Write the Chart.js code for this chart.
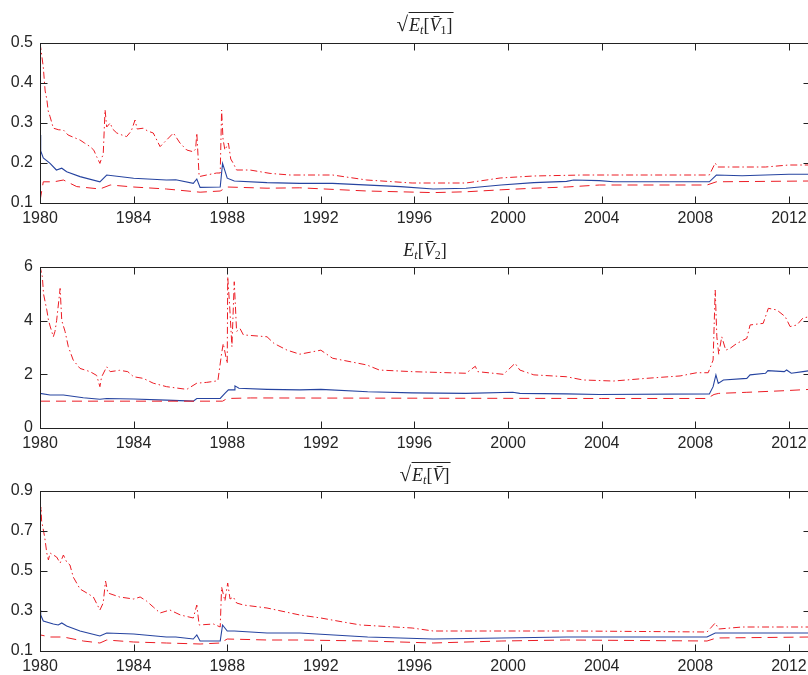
<!DOCTYPE html>
<html>
<head>
<meta charset="utf-8">
<script src="https://cdn.jsdelivr.net/npm/chart.js@4.4.1/dist/chart.umd.min.js"></script>
<style>
  html, body { margin: 0; padding: 0; background: #fff; }
  #fig { position: relative; width: 808px; height: 675px; overflow: hidden; }
  #fig canvas { position: absolute; left: 0; }
  .ttl { position: absolute; left: 425px; transform: translateX(-50%); font-family: 'Liberation Serif', serif; font-size: 18px; color: #222; white-space: nowrap; line-height: 20px; }
  .ttl i { font-style: italic; }
  .ttl sub { font-size: 12px; vertical-align: -3px; line-height: 0; }
  .rad { font-size: 21px; }
  .ov { display: inline-block; border-top: 1px solid #222; line-height: 18px; padding: 3px 1px 0 1px; }
  .bar { position: relative; }
  .bar::after { content: ''; position: absolute; left: 4px; right: 1px; top: 1px; border-top: 1px solid #222; }
</style>
</head>
<body>
<div id="fig">
  <canvas id="c1" width="830" height="228" style="top:0px"></canvas>
  <canvas id="c2" width="830" height="228" style="top:224px"></canvas>
  <canvas id="c3" width="830" height="228" style="top:448px"></canvas>
  <div class="ttl" style="top:12px"><span class="rad">√</span><span class="ov"><i>E</i><sub><i>t</i></sub>[<i class="bar">V</i><sub>1</sub>]</span></div>
  <div class="ttl" style="top:240px"><i>E</i><sub><i>t</i></sub>[<i class="bar">V</i><sub>2</sub>]</div>
  <div class="ttl" style="top:462px"><span class="rad">√</span><span class="ov"><i>E</i><sub><i>t</i></sub>[<i class="bar">V</i>]</span></div>
</div>
<script>
// eixo x comum
const xTicks = [1980, 1984, 1988, 1992, 1996, 2000, 2004, 2008, 2012];

// painel 1: sqrt(E_t[V1])
const yTicks1 = [0.1, 0.2, 0.3, 0.4, 0.5];
const tUp1 = [1980.0, 1980.05, 1980.14, 1980.22, 1980.29, 1980.35, 1980.43, 1980.57, 1980.8, 1981.0, 1981.2, 1981.4, 1981.71, 1981.9, 1982.14, 1982.3, 1982.42, 1982.56, 1982.65, 1982.7, 1982.78, 1982.85, 1983.0, 1983.1, 1983.28, 1983.5, 1983.7, 1983.9, 1984.06, 1984.15, 1984.41, 1984.6, 1984.84, 1985.13, 1985.41, 1985.7, 1985.98, 1986.27, 1986.55, 1986.65, 1986.7, 1986.8, 1987.12, 1987.55, 1987.7, 1987.76, 1987.82, 1987.9, 1988.05, 1988.15, 1988.26, 1988.4, 1988.97, 1989.83, 1990.68, 1992.5, 1993.96, 1995.9, 1998.2, 1999.66, 2001.08, 2003.2, 2008.6, 2008.85, 2008.95, 2011.0, 2012.0, 2012.9];
const vUp1 = [0.5, 0.48, 0.44, 0.38, 0.36, 0.33, 0.316, 0.287, 0.283, 0.2825, 0.27, 0.265, 0.2575, 0.25, 0.241, 0.232, 0.216, 0.199, 0.215, 0.22, 0.333, 0.29, 0.3, 0.285, 0.275, 0.27, 0.266, 0.28, 0.3075, 0.285, 0.287, 0.28, 0.275, 0.241, 0.2575, 0.275, 0.25, 0.2325, 0.228, 0.235, 0.275, 0.166, 0.17, 0.175, 0.175, 0.3325, 0.26, 0.2325, 0.25, 0.21, 0.199, 0.1825, 0.1825, 0.174, 0.17, 0.17, 0.1575, 0.15, 0.15, 0.1625, 0.1675, 0.17, 0.17, 0.2, 0.19, 0.19, 0.195, 0.195];
const tMid1 = [1980.0, 1980.03, 1980.14, 1980.43, 1980.7, 1980.93, 1981.14, 1981.71, 1982.56, 1982.85, 1984.0, 1985.4, 1985.8, 1986.55, 1986.7, 1986.84, 1987.7, 1987.8, 1988.0, 1988.3, 1989.7, 1991.1, 1992.5, 1995.4, 1996.8, 1998.2, 1999.7, 2001.1, 2002.5, 2002.8, 2003.9, 2004.5, 2008.6, 2008.9, 2010.0, 2012.0, 2012.9];
const vMid1 = [0.27, 0.23, 0.2125, 0.199, 0.1825, 0.187, 0.178, 0.166, 0.153, 0.17, 0.162, 0.1575, 0.158, 0.149, 0.16, 0.139, 0.14, 0.199, 0.162, 0.155, 0.151, 0.149, 0.149, 0.141, 0.135, 0.137, 0.145, 0.151, 0.154, 0.1575, 0.156, 0.153, 0.153, 0.17, 0.168, 0.172, 0.172];
const tLow1 = [1980.0, 1980.14, 1980.6, 1981.0, 1981.57, 1982.56, 1983.0, 1984.0, 1985.4, 1986.84, 1987.7, 1988.0, 1989.7, 1991.1, 1993.96, 1996.8, 1998.2, 1999.7, 2001.1, 2002.5, 2003.9, 2008.5, 2008.9, 2012.9];
const vLow1 = [0.105, 0.153, 0.153, 0.1575, 0.141, 0.135, 0.145, 0.14, 0.135, 0.127, 0.13, 0.14, 0.137, 0.138, 0.13, 0.126, 0.128, 0.133, 0.137, 0.14, 0.145, 0.145, 0.153, 0.155];

// painel 2: E_t[V2]
const yTicks2 = [0, 2, 4, 6];
const tUp2 = [1980.0, 1980.02, 1980.1, 1980.15, 1980.29, 1980.36, 1980.43, 1980.57, 1980.64, 1980.71, 1980.86, 1980.93, 1981.07, 1981.21, 1981.42, 1981.71, 1982.14, 1982.42, 1982.56, 1982.63, 1982.85, 1983.0, 1983.4, 1983.75, 1984.0, 1984.41, 1984.84, 1985.41, 1986.27, 1986.7, 1987.12, 1987.6, 1987.76, 1987.83, 1988.0, 1988.02, 1988.1, 1988.2, 1988.3, 1988.4, 1988.55, 1988.69, 1989.7, 1990.0, 1990.56, 1991.1, 1992.0, 1992.5, 1993.96, 1994.5, 1995.9, 1998.2, 1998.6, 1998.7, 1999.8, 2000.3, 2000.5, 2001.1, 2002.5, 2003.2, 2004.5, 2005.9, 2007.35, 2008.06, 2008.55, 2008.76, 2008.85, 2008.92, 2009.0, 2009.13, 2009.3, 2009.49, 2009.77, 2010.2, 2010.34, 2010.9, 2011.12, 2011.48, 2011.84, 2012.05, 2012.34, 2012.6, 2012.9];
const vUp2 = [4.77, 5.95, 5.64, 5.0, 4.4, 4.03, 3.8, 3.4, 3.6, 4.0, 5.2, 4.0, 3.6, 3.03, 2.53, 2.22, 2.1, 1.96, 1.54, 1.9, 2.28, 2.1, 2.15, 2.1, 1.91, 1.85, 1.67, 1.54, 1.44, 1.67, 1.7, 1.76, 2.78, 3.15, 2.4, 5.64, 4.6, 3.03, 5.45, 3.6, 3.7, 3.47, 3.4, 3.15, 2.9, 2.75, 2.9, 2.6, 2.35, 2.16, 2.1, 2.04, 2.3, 2.1, 2.0, 2.41, 2.16, 1.98, 1.91, 1.79, 1.75, 1.85, 1.94, 2.06, 2.06, 2.53, 5.14, 3.4, 2.75, 3.4, 2.9, 2.97, 3.15, 3.34, 3.84, 3.9, 4.46, 4.4, 4.15, 3.78, 3.84, 4.1, 4.15];
const tMid2 = [1980.0, 1980.43, 1981.0, 1981.85, 1982.56, 1982.85, 1984.0, 1985.4, 1986.55, 1986.7, 1987.7, 1987.9, 1988.05, 1988.3, 1988.33, 1988.5, 1989.7, 1991.1, 1992.0, 1994.0, 1995.9, 1998.2, 2000.2, 2000.5, 2002.5, 2003.9, 2008.6, 2008.76, 2008.88, 2008.98, 2009.2, 2010.2, 2010.34, 2011.0, 2011.1, 2011.8, 2011.9, 2012.1, 2012.6, 2012.9];
const vMid2 = [1.29, 1.23, 1.23, 1.13, 1.07, 1.1, 1.08, 1.04, 1.0, 1.1, 1.1, 1.29, 1.42, 1.42, 1.57, 1.48, 1.44, 1.42, 1.44, 1.35, 1.31, 1.29, 1.33, 1.29, 1.27, 1.25, 1.27, 1.54, 1.98, 1.66, 1.79, 1.85, 1.98, 2.04, 2.14, 2.1, 2.16, 2.04, 2.1, 2.14];
const tLow2 = [1980.0, 1987.8, 1988.0, 1989.0, 2004.0, 2008.5, 2008.8, 2009.0, 2010.2, 2011.8, 2012.9];
const vLow2 = [1.0, 1.0, 1.1, 1.12, 1.1, 1.1, 1.25, 1.29, 1.33, 1.39, 1.44];

// painel 3: sqrt(E_t[V])
const yTicks3 = [0.1, 0.3, 0.5, 0.7, 0.9];
const tUp3 = [1980.0, 1980.02, 1980.04, 1980.07, 1980.2, 1980.29, 1980.36, 1980.43, 1980.71, 1980.86, 1981.0, 1981.14, 1981.28, 1981.42, 1981.71, 1982.0, 1982.28, 1982.56, 1982.7, 1982.8, 1982.9, 1983.4, 1984.0, 1984.28, 1984.55, 1984.84, 1985.13, 1985.55, 1986.0, 1986.55, 1986.7, 1986.8, 1987.41, 1987.7, 1987.76, 1987.9, 1988.02, 1988.12, 1988.26, 1988.4, 1988.69, 1989.7, 1991.1, 1992.0, 1992.95, 1993.7, 1995.9, 1996.8, 2003.0, 2008.5, 2008.85, 2009.0, 2010.0, 2012.9];
const vUp3 = [0.9, 0.77, 0.82, 0.75, 0.67, 0.59, 0.555, 0.59, 0.57, 0.54, 0.58, 0.545, 0.53, 0.47, 0.41, 0.39, 0.37, 0.305, 0.34, 0.45, 0.39, 0.37, 0.36, 0.37, 0.35, 0.32, 0.29, 0.305, 0.28, 0.265, 0.33, 0.23, 0.235, 0.22, 0.42, 0.35, 0.44, 0.36, 0.37, 0.34, 0.33, 0.315, 0.28, 0.265, 0.245, 0.23, 0.215, 0.2, 0.2, 0.195, 0.24, 0.21, 0.22, 0.22];
const tMid3 = [1980.0, 1980.03, 1980.14, 1980.57, 1980.78, 1980.93, 1981.14, 1981.71, 1982.56, 1982.85, 1984.0, 1985.4, 1985.8, 1986.55, 1986.7, 1986.84, 1987.7, 1987.8, 1988.0, 1988.3, 1989.7, 1991.1, 1994.0, 1996.8, 1999.7, 2002.5, 2008.5, 2008.85, 2012.9];
const vMid3 = [0.305, 0.28, 0.25, 0.235, 0.23, 0.24, 0.225, 0.2, 0.175, 0.19, 0.185, 0.17, 0.17, 0.16, 0.18, 0.15, 0.15, 0.23, 0.2, 0.2, 0.19, 0.19, 0.17, 0.16, 0.165, 0.17, 0.17, 0.19, 0.19];
const tLow3 = [1980.0, 1980.03, 1980.43, 1981.0, 1981.85, 1982.56, 1982.85, 1984.0, 1985.4, 1986.84, 1987.7, 1988.0, 1989.7, 1991.1, 1994.0, 1996.8, 1999.7, 2002.5, 2008.5, 2008.9, 2012.9];
const vLow3 = [0.15, 0.18, 0.17, 0.17, 0.15, 0.14, 0.155, 0.145, 0.14, 0.135, 0.14, 0.16, 0.155, 0.155, 0.15, 0.14, 0.15, 0.155, 0.15, 0.165, 0.17];

const AZUL = 'rgb(38,68,160)';
const VERMELHO = 'rgb(236,28,36)';
const TXT = '#262626';

function pontos(t, v) {
  return t.map((x, i) => ({ x: x, y: v[i] }));
}

// moldura fechada com ticks para dentro (estilo matlab)
const moldura = {
  id: 'moldura',
  afterDraw(chart) {
    const { ctx, chartArea: a, scales } = chart;
    const L = 7;
    ctx.save();
    ctx.strokeStyle = '#222';
    ctx.lineWidth = 1;
    const l = Math.round(a.left) + 0.5, r = Math.round(a.right) + 0.5;
    const t = Math.round(a.top) + 0.5, b = Math.round(a.bottom) + 0.5;
    ctx.strokeRect(l, t, r - l, b - t);
    ctx.beginPath();
    scales.x.ticks.forEach(tk => {
      const px = Math.round(scales.x.getPixelForValue(tk.value)) + 0.5;
      ctx.moveTo(px, b); ctx.lineTo(px, b - L);
      ctx.moveTo(px, t); ctx.lineTo(px, t + L);
    });
    scales.y.ticks.forEach(tk => {
      const py = Math.round(scales.y.getPixelForValue(tk.value)) + 0.5;
      ctx.moveTo(l, py); ctx.lineTo(l + L, py);
      ctx.moveTo(r, py); ctx.lineTo(r - L, py);
    });
    ctx.stroke();
    ctx.restore();
  }
};

function criarPainel(id, up, mid, low, yTicks, alturaPlot) {
  const ctx = document.getElementById(id).getContext('2d');
  return new Chart(ctx, {
    type: 'line',
    data: {
      datasets: [
        { data: up, borderColor: VERMELHO, borderWidth: 1, borderDash: [7, 3, 1.5, 3] },
        { data: low, borderColor: VERMELHO, borderWidth: 1, borderDash: [10, 6] },
        { data: mid, borderColor: AZUL, borderWidth: 1.1 }
      ]
    },
    options: {
      responsive: false,
      animation: false,
      devicePixelRatio: 1,
      parsing: false,
      elements: { point: { radius: 0 }, line: { tension: 0 } },
      layout: { padding: { top: 43, left: 0, right: 20, bottom: 0 } },
      plugins: { legend: { display: false }, tooltip: { enabled: false } },
      scales: {
        x: {
          type: 'linear',
          min: 1980,
          max: 2012.9,
          grid: { display: false, drawTicks: false },
          border: { display: false },
          afterBuildTicks: s => { s.ticks = xTicks.map(v => ({ value: v })); },
          afterFit: s => { s.height = 228 - 43 - alturaPlot; },
          ticks: {
            color: TXT,
            padding: 6,
            maxRotation: 0,
            font: { family: 'Liberation Sans', size: 16 },
            callback: v => String(v)
          }
        },
        y: {
          type: 'linear',
          min: yTicks[0],
          max: yTicks[yTicks.length - 1],
          grid: { display: false, drawTicks: false },
          border: { display: false },
          afterBuildTicks: s => { s.ticks = yTicks.map(v => ({ value: v })); },
          afterFit: s => { s.width = 40; },
          ticks: {
            color: TXT,
            padding: 7,
            font: { family: 'Liberation Sans', size: 16 },
            callback: v => String(Math.round(v * 10) / 10)
          }
        }
      }
    },
    plugins: [moldura]
  });
}

criarPainel('c1', pontos(tUp1, vUp1), pontos(tMid1, vMid1), pontos(tLow1, vLow1), yTicks1, 160);
criarPainel('c2', pontos(tUp2, vUp2), pontos(tMid2, vMid2), pontos(tLow2, vLow2), yTicks2, 161);
criarPainel('c3', pontos(tUp3, vUp3), pontos(tMid3, vMid3), pontos(tLow3, vLow3), yTicks3, 160);
</script>
</body>
</html>
